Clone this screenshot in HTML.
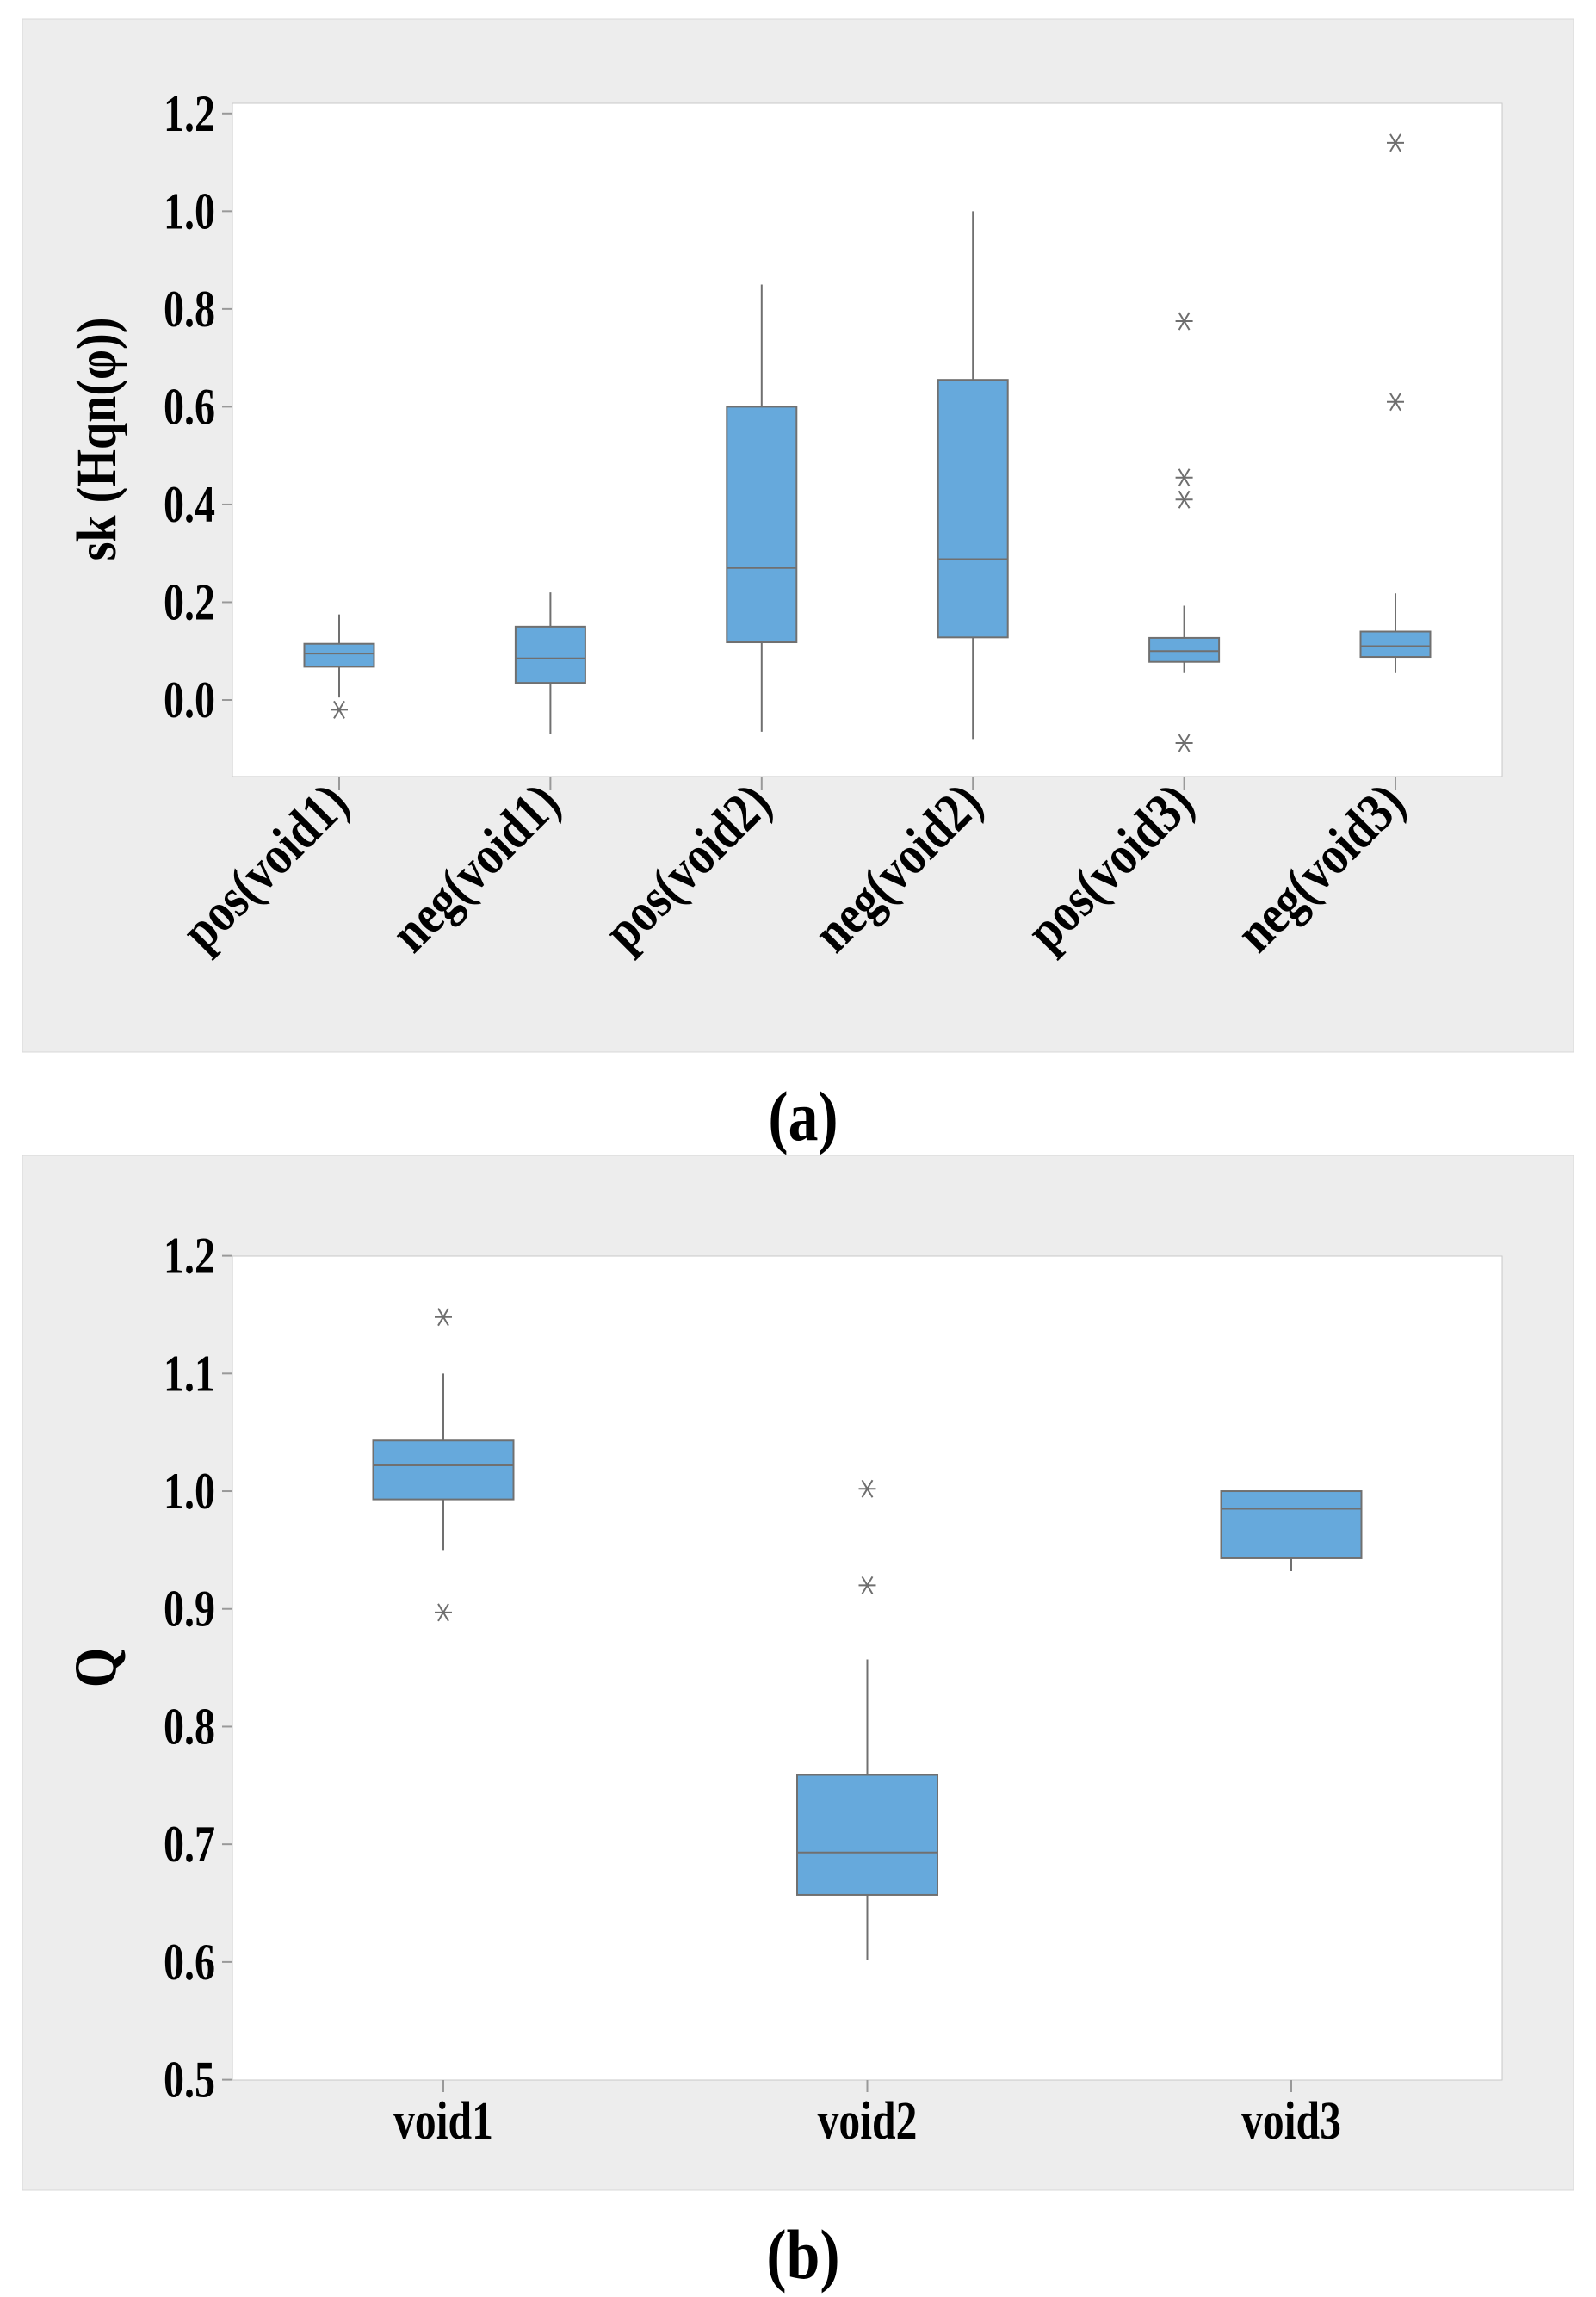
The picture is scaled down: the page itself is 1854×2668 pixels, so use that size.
<!DOCTYPE html>
<html><head><meta charset="utf-8"><style>
html,body{margin:0;padding:0;background:#fff;}
svg{display:block;}
text{font-family:"Liberation Serif",serif;font-weight:bold;fill:#000;}
</style></head><body>
<svg id="fig" width="1854" height="2668" viewBox="0 0 1854 2668" xmlns="http://www.w3.org/2000/svg">
<rect x="26" y="22" width="1802" height="1200" fill="#ededed" stroke="#d8d8d8"/>
<rect x="270" y="120" width="1475" height="782" fill="#fff" stroke="#c8c8c8"/>
<rect x="26" y="1342" width="1802" height="1202" fill="#ededed" stroke="#d8d8d8"/>
<rect x="270" y="1459" width="1475" height="957" fill="#fff" stroke="#c8c8c8"/>
<text font-size="66" text-anchor="middle" transform="translate(134 510) rotate(-90) scale(0.85 1)">sk (Hqn(φ))</text>
<text font-size="70" text-anchor="middle" transform="translate(134 1937) rotate(-90) scale(0.85 1)">Q</text>
<text font-size="82" font-weight="normal" text-anchor="middle" transform="translate(933 1324) scale(0.85 1)">(<tspan font-weight="bold">a</tspan>)</text>
<text font-size="82" font-weight="normal" text-anchor="middle" transform="translate(933 2646) scale(0.85 1)">(<tspan font-weight="bold">b</tspan>)</text>
<g id="ga"></g><g id="gb"></g>
</svg>
<script>
// Panel a data
const catsA = ["pos(void1)","neg(void1)","pos(void2)","neg(void2)","pos(void3)","neg(void3)"];
const loA = [0.005,-0.07,-0.065,-0.08,0.055,0.055];
const q1A = [0.068,0.035,0.118,0.128,0.078,0.088];
const medA = [0.095,0.085,0.27,0.288,0.1,0.11];
const q3A = [0.115,0.15,0.6,0.655,0.127,0.14];
const hiA = [0.175,0.22,0.85,1.0,0.193,0.218];
const outA = [[-0.02],[],[],[],[0.775,0.455,0.41,-0.088],[1.14,0.61]];
const ticksA = ["0.0","0.2","0.4","0.6","0.8","1.0","1.2"];
// Panel b data
const catsB = ["void1","void2","void3"];
const loB = [0.95,0.602,0.932];
const q1B = [0.993,0.657,0.943];
const medB = [1.022,0.693,0.985];
const q3B = [1.043,0.759,1.0];
const hiB = [1.1,0.857,1.0];
const outB = [[1.148,0.897],[1.002,0.92],[]];
const ticksB = ["0.5","0.6","0.7","0.8","0.9","1.0","1.1","1.2"];

const NS="http://www.w3.org/2000/svg";
function mk(parent,tag,attrs){const e=document.createElementNS(NS,tag);for(const k in attrs)e.setAttribute(k,attrs[k]);parent.appendChild(e);return e;}
function yA(v){return 813-(v-0)*(813-131.8)/1.2;}
function xA(i){return 394+i*245.4;}
function yB(v){return 2415.6-(v-0.5)*(2415.6-1458.6)/0.7;}
function xB(i){return 515+i*492.5;}

function star(g,x,y){
  const s=mk(g,"g",{stroke:"#6e6e6e","stroke-width":2});
  
  
  mk(s,"line",{x1:x-10,y1:y,x2:x+10,y2:y});
  mk(s,"line",{x1:x-6,y1:y-10,x2:x+6,y2:y+10});
  mk(s,"line",{x1:x+6,y1:y-10,x2:x-6,y2:y+10});
}
function boxes(g,cats,lo,q1,med,q3,hi,out,xf,yf,bw){
  cats.forEach((c,i)=>{
    const x=xf(i);
    const bg=mk(g,"g",{});
    
    
    mk(bg,"line",{x1:x,x2:x,y1:yf(lo[i]),y2:yf(hi[i]),stroke:"#707070","stroke-width":2});
    mk(bg,"rect",{x:x-bw/2,y:yf(q3[i]),width:bw,height:yf(q1[i])-yf(q3[i]),fill:"#66a9dc",stroke:"#707070","stroke-width":2});
    mk(bg,"line",{x1:x-bw/2,x2:x+bw/2,y1:yf(med[i]),y2:yf(med[i]),stroke:"#707070","stroke-width":2});
    out[i].forEach(v=>star(bg,x,yf(v)));
  });
}
const ga=document.getElementById("ga"), gb=document.getElementById("gb");
// axis a
ticksA.forEach(t=>{
  const y=yA(parseFloat(t));
  mk(ga,"line",{x1:258,x2:270,y1:y,y2:y,stroke:"#999","stroke-width":2});
  const tx=mk(ga,"text",{"font-size":60,"text-anchor":"end",transform:`translate(250 ${y+20}) scale(0.8 1)`});
  tx.textContent=t;
  
  
});
catsA.forEach((c,i)=>{
  const x=xA(i);
  mk(ga,"line",{x1:x,x2:x,y1:902,y2:918,stroke:"#999","stroke-width":2});
  const tx=mk(ga,"text",{"font-size":64,"text-anchor":"end",transform:`translate(${x+14} 936) rotate(-45) scale(0.85 1)`});
  tx.textContent=c;
  
  
});
boxes(ga,catsA,loA,q1A,medA,q3A,hiA,outA,xA,yA,81);
// axis b
ticksB.forEach(t=>{
  const y=yB(parseFloat(t));
  mk(gb,"line",{x1:258,x2:270,y1:y,y2:y,stroke:"#999","stroke-width":2});
  const tx=mk(gb,"text",{"font-size":60,"text-anchor":"end",transform:`translate(250 ${y+20}) scale(0.8 1)`});
  tx.textContent=t;
  
  
});
catsB.forEach((c,i)=>{
  const x=xB(i);
  mk(gb,"line",{x1:x,x2:x,y1:2416,y2:2430,stroke:"#999","stroke-width":2});
  const tx=mk(gb,"text",{"font-size":62,"text-anchor":"middle",transform:`translate(${x} 2484) scale(0.8 1)`});
  tx.textContent=c;
  
  
});
boxes(gb,catsB,loB,q1B,medB,q3B,hiB,outB,xB,yB,163);
</script>
</body></html>
